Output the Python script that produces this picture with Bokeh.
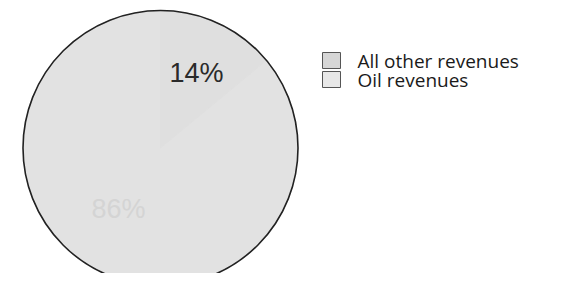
import math
from bokeh.plotting import figure
from bokeh.models import Range1d, ColumnDataSource
from bokeh.core.properties import value
from bokeh.embed import file_html
from bokeh.resources import INLINE

# data
categories = ["All other revenues", "Oil revenues"]
shares = [86, 14]
labels = ["86%", "14%"]
slice_colors = ["#e2e2e2", "#dfdfdf"]
legend_fill = ["#d6d6d6", "#e8e8e8"]

W, H = 548, 273
p = figure(width=W, height=H, output_backend="svg", toolbar_location=None,
           x_range=Range1d(0, W), y_range=Range1d(0, H), min_border=0)
p.axis.visible = False
p.grid.visible = False
p.outline_line_color = None
p.background_fill_color = "white"
p.border_fill_color = "white"

cx, cy, r = 160, 125.5, 137.5

# angles: oil slice starts at 12 o'clock, clockwise
total = float(sum(shares))
oil_frac = shares[1] / total
start_oil = math.pi / 2
end_oil = start_oil - 2 * math.pi * oil_frac
starts = [end_oil, start_oil]
ends = [start_oil - 2 * math.pi, end_oil]

src = ColumnDataSource(dict(x=[cx, cx], y=[cy, cy], s=starts, e=ends,
                            c=slice_colors, cat=categories))
p.wedge(x="x", y="y", radius=r, start_angle="s", end_angle="e", direction="clock",
        fill_color="c", line_color="c", line_width=1, source=src)
p.circle(x=[cx], y=[cy], radius=r, fill_color=None, line_color="#222222", line_width=1.6)

# slice labels
lx = [cx - 42, cx + 36]
ly = [cy - 61, cy + 75]
p.text(x=lx, y=ly, text=labels, text_align="center", text_baseline="middle",
       text_font=value("Liberation Sans"), text_font_size="27px",
       text_color=["#d4d4d4", "#2a2a2a"])

# legend
leg_x = 331
leg_y = [213, 194]
p.rect(x=[leg_x] * 2, y=leg_y, width=18, height=16, fill_color=legend_fill,
       line_color="#555555", line_width=1)
p.text(x=[leg_x + 26] * 2, y=leg_y, text=categories, text_baseline="middle",
       text_font=value("Open Sans"), text_font_size="19px", text_color="#1a1a1a")

open("out.html", "w").write(file_html(p, INLINE))
